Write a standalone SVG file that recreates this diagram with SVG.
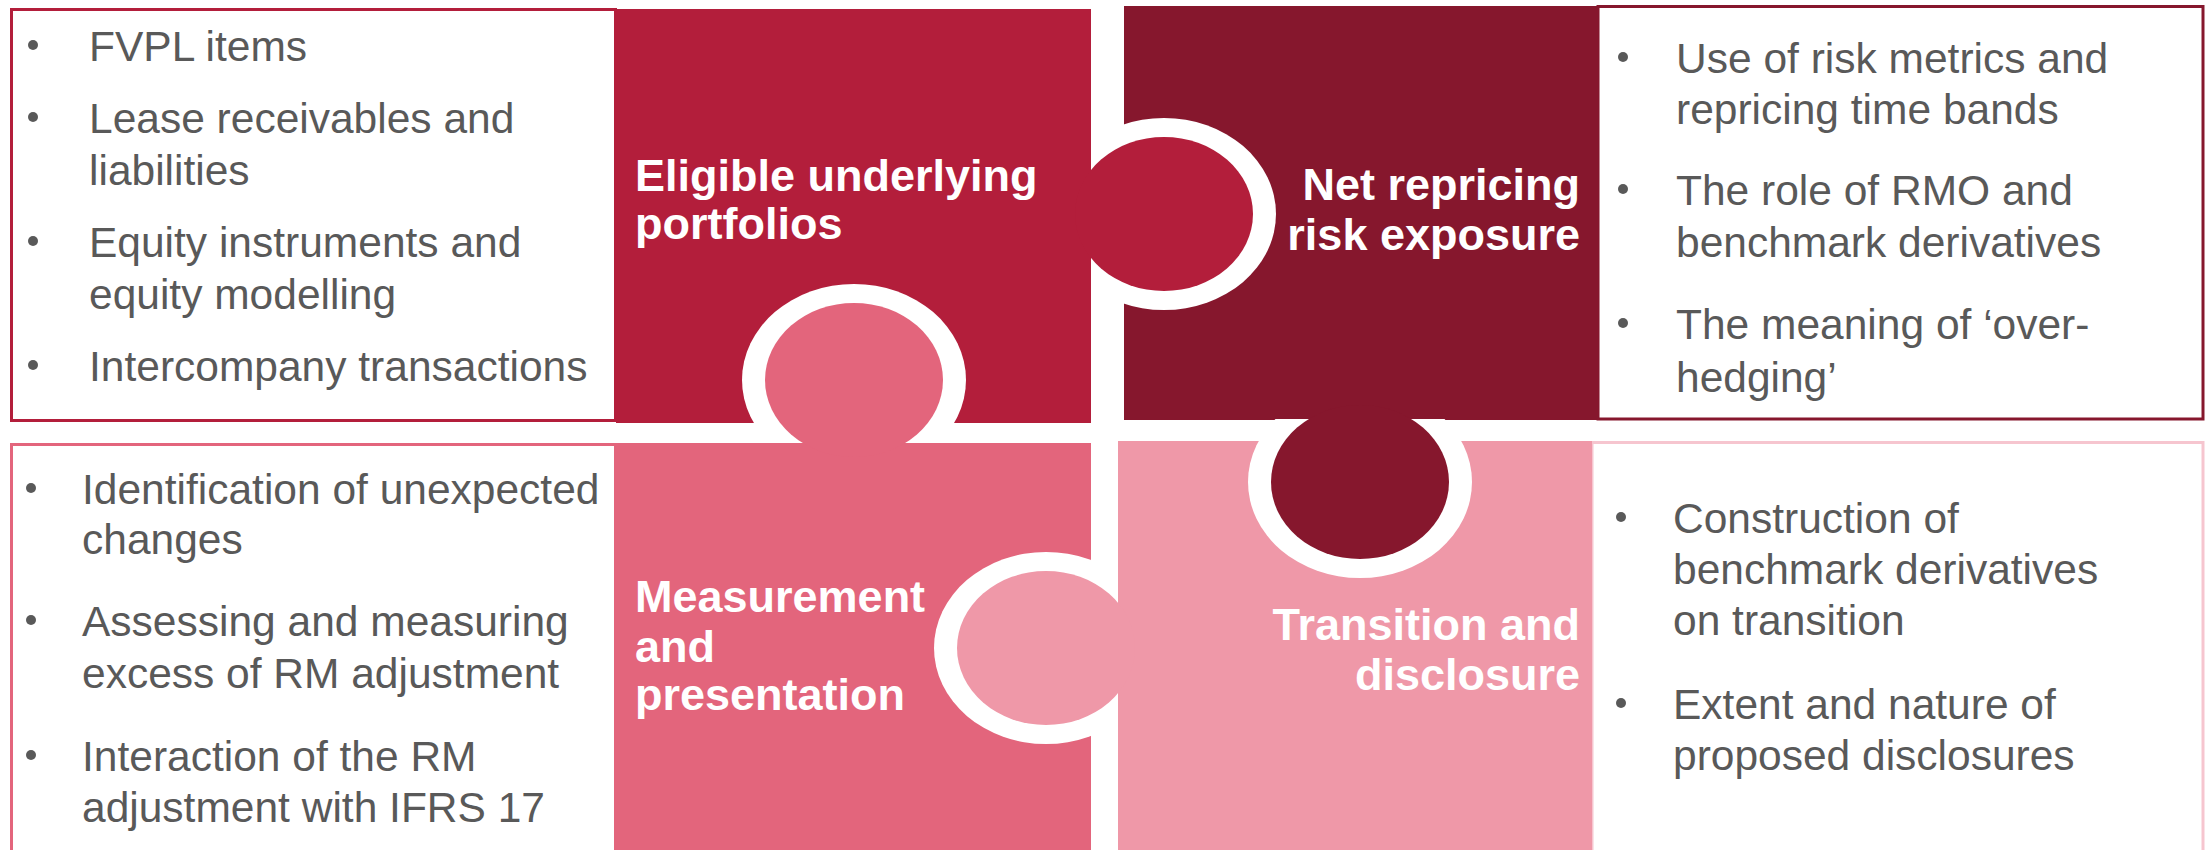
<svg xmlns="http://www.w3.org/2000/svg" width="2208" height="850" viewBox="0 0 2208 850">
<defs>
<style>
.body{font-family:"Liberation Sans",Arial,sans-serif;font-size:42.5px;fill:#595959}
.title{font-family:"Liberation Sans",Arial,sans-serif;font-size:45px;font-weight:bold;fill:#ffffff}
.r{text-anchor:end}
.box{fill:#ffffff;stroke-width:3}
.ring{fill:#ffffff}
</style>
<clipPath id="c1"><rect x="0" y="0" width="2208" height="443"/></clipPath>
<clipPath id="c2"><rect x="1091" y="0" width="1117" height="850"/></clipPath>
<clipPath id="c3"><rect x="0" y="0" width="1118" height="850"/></clipPath>
<clipPath id="c4"><rect x="0" y="419" width="2208" height="431"/></clipPath>
</defs>
<rect width="2208" height="850" fill="#ffffff"/>

<g id="node-eligible">
<rect class="box" x="11.5" y="9.5" width="604" height="411" stroke="#B31E3B"/>
<rect x="616" y="9" width="475" height="414" fill="#B31E3B"/>
<text class="title" x="635" y="191">Eligible underlying</text>
<text class="title" x="635" y="239">portfolios</text>
<g class="body">
<circle cx="33" cy="45" r="5" fill="#595959"/>
<text x="89" y="61">FVPL items</text>
<circle cx="33" cy="117" r="5" fill="#595959"/>
<text x="89" y="133">Lease receivables and</text>
<text x="89" y="185">liabilities</text>
<circle cx="33" cy="241" r="5" fill="#595959"/>
<text x="89" y="257">Equity instruments and</text>
<text x="89" y="309">equity modelling</text>
<circle cx="33" cy="365" r="5" fill="#595959"/>
<text x="89" y="381">Intercompany transactions</text>
</g>
</g>

<g id="node-net-repricing">
<rect class="box" x="1598" y="6.5" width="605" height="412.5" stroke="#86172D"/>
<rect x="1124" y="6" width="474" height="414" fill="#86172D"/>
<text class="title r" x="1580" y="200">Net repricing</text>
<text class="title r" x="1580" y="250">risk exposure</text>
<g class="body">
<circle cx="1623" cy="57" r="5" fill="#595959"/>
<text x="1676" y="73">Use of risk metrics and</text>
<text x="1676" y="124">repricing time bands</text>
<circle cx="1623" cy="189" r="5" fill="#595959"/>
<text x="1676" y="205">The role of RMO and</text>
<text x="1676" y="257">benchmark derivatives</text>
<circle cx="1623" cy="323" r="5" fill="#595959"/>
<text x="1676" y="339">The meaning of ‘over-</text>
<text x="1676" y="392">hedging’</text>
</g>
</g>

<g id="node-measurement">
<rect class="box" x="11.5" y="444.5" width="604" height="420" stroke="#E3657C"/>
<rect x="616" y="443" width="475" height="407" fill="#E3657C"/>
<text class="title" x="635" y="612">Measurement</text>
<text class="title" x="635" y="662">and</text>
<text class="title" x="635" y="710">presentation</text>
<g class="body">
<circle cx="31" cy="488" r="5" fill="#595959"/>
<text x="82" y="504">Identification of unexpected</text>
<text x="82" y="554">changes</text>
<circle cx="31" cy="620" r="5" fill="#595959"/>
<text x="82" y="636">Assessing and measuring</text>
<text x="82" y="688">excess of RM adjustment</text>
<circle cx="31" cy="755" r="5" fill="#595959"/>
<text x="82" y="771">Interaction of the RM</text>
<text x="82" y="822">adjustment with IFRS 17</text>
</g>
</g>

<g id="node-transition">
<rect class="box" x="1592" y="442.5" width="611" height="420" stroke="#F6C5CF"/>
<rect x="1118" y="441" width="474" height="409" fill="#EF98A8"/>
<text class="title r" x="1580" y="640">Transition and</text>
<text class="title r" x="1580" y="690">disclosure</text>
<g class="body">
<circle cx="1621" cy="517" r="5" fill="#595959"/>
<text x="1673" y="533">Construction of</text>
<text x="1673" y="584">benchmark derivatives</text>
<text x="1673" y="635">on transition</text>
<circle cx="1621" cy="703" r="5" fill="#595959"/>
<text x="1673" y="719">Extent and nature of</text>
<text x="1673" y="770">proposed disclosures</text>
</g>
</g>

<g id="puzzle-tabs">
<ellipse class="ring" cx="854" cy="380" rx="112" ry="96" clip-path="url(#c1)"/>
<ellipse cx="854" cy="380" rx="89" ry="77" fill="#E3657C"/>
<ellipse class="ring" cx="1164" cy="214" rx="112" ry="96" clip-path="url(#c2)"/>
<ellipse cx="1164" cy="214" rx="89" ry="77" fill="#B31E3B"/>
<ellipse class="ring" cx="1046" cy="648" rx="112" ry="96" clip-path="url(#c3)"/>
<ellipse cx="1046" cy="648" rx="89" ry="77" fill="#EF98A8"/>
<ellipse class="ring" cx="1360" cy="482" rx="112" ry="96" clip-path="url(#c4)"/>
<ellipse cx="1360" cy="482" rx="89" ry="77" fill="#86172D"/>
</g>
</svg>
